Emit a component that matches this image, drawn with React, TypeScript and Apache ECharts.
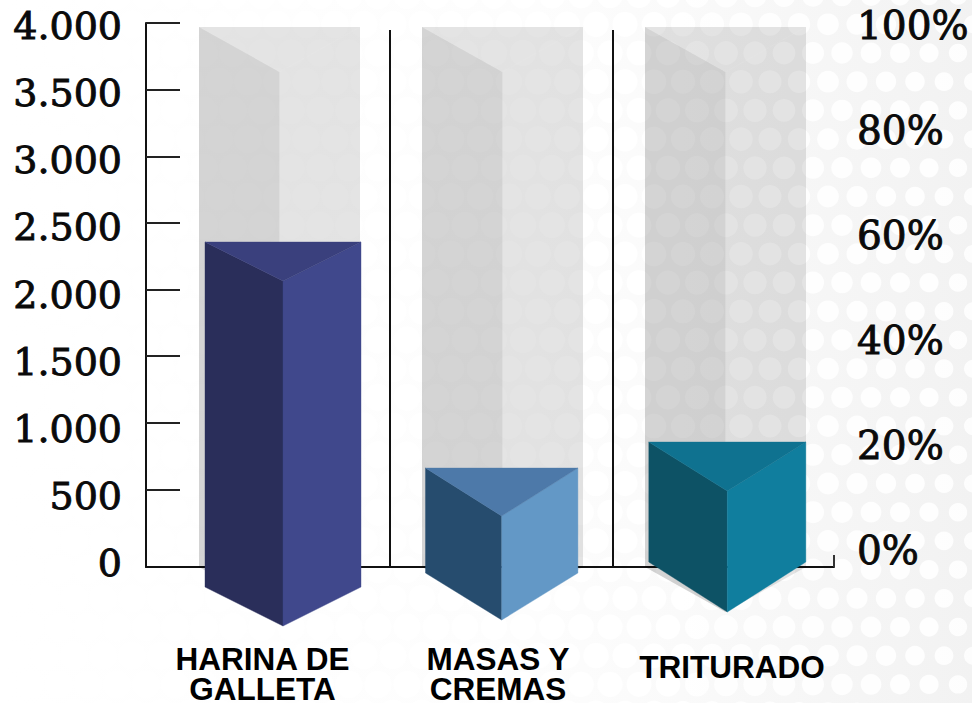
import React, { useEffect, useRef } from "react";
import * as echarts from "echarts";

const categories = ["HARINA DE\nGALLETA", "MASAS Y\nCREMAS", "TRITURADO"];
const barValues = [2356, 660, 855];
const trackValue = 3970;
const axisTickValues = [500, 1000, 1500, 2000, 2500, 3000, 3500, 4000];

const faceColors = [
  { left: "#2a2e5a", right: "#40488c", top: "#3a407d" },
  { left: "#264c6e", right: "#6398c6", top: "#4d79a9" },
  { left: "#0d5265", right: "#107e9e", top: "#0f7290" },
];

// Pixel shape of each prism: offset from band centre, half width, V depth, drop below value 0
const barShapes = [
  { dx: 5, half: 78, depth: 39, drop: 31, apex: 39 },
  { dx: 0.7, half: 76.2, depth: 48, drop: 17, apex: 47 },
  { dx: 3.3, half: 78.5, depth: 49, drop: 6, apex: 50 },
];
const trackShape = { dx: 1.5, half: 80.5, depth: 45 };

const grey = {
  left: "rgba(0,0,0,0.17)",
  right: "rgba(0,0,0,0.105)",
  top: "rgba(0,0,0,0.105)",
};

function poly(points: number[][], fill: string, seam: boolean) {
  return {
    type: "polygon",
    shape: { points },
    style: seam ? { fill, stroke: fill, lineWidth: 0.4 } : { fill },
  };
}

function prism(
  cx: number,
  half: number,
  yTop: number,
  depth: number,
  ySide: number,
  apex: number,
  c: { left: string; right: string; top: string },
  seam: boolean,
) {
  const l = cx - half;
  const r = cx + half;
  return [
    poly([[l, yTop], [cx, yTop + depth], [cx, ySide + apex], [l, ySide]], c.left, seam),
    poly([[r, yTop], [cx, yTop + depth], [cx, ySide + apex], [r, ySide]], c.right, seam),
    poly([[l, yTop], [r, yTop], [cx, yTop + depth]], c.top, seam),
  ];
}

function backdrop() {
  const els: any[] = [
    {
      type: "rect",
      silent: true,
      z: -20,
      shape: { x: 0, y: 0, width: 972, height: 703 },
      style: {
        fill: new echarts.graphic.LinearGradient(0, 0, 1, 0, [
          { offset: 0, color: "#ffffff" },
          { offset: 0.55, color: "#fdfdfd" },
          { offset: 0.7, color: "#fafafa" },
          { offset: 0.85, color: "#f6f6f6" },
          { offset: 1, color: "#f2f2f2" },
        ]),
      },
    },
  ];
  for (let i = -2; i < 24; i++) {
    const y = 53 + 28.7 * i;
    for (let j = -29; j < 7; j++) {
      const x = 813 + 29 * j - (Math.abs(i) % 2 === 1 ? 14 : 0);
      const t = Math.max(0, x / 972);
      const r = 14 - 5 * t * t * t;
      els.push({
        type: "circle",
        silent: true,
        z: -19,
        shape: { cx: x, cy: y, r },
        style: { fill: "#ffffff", opacity: 0.85 },
      });
    }
  }
  return els;
}

export default function App() {
  const ref = useRef<HTMLDivElement>(null);
  useEffect(() => {
    document.body.style.margin = "0";
    const chart = echarts.init(ref.current!, null, { renderer: "svg" });
    const numFont = {
      fontFamily: "DejaVu Serif",
      color: "#0a0a0a",
      textBorderColor: "#0a0a0a",
      textBorderWidth: 0.9,
    };
    chart.setOption({
      animation: false,
      backgroundColor: "transparent",
      graphic: { elements: backdrop() },
      grid: [
        { left: 146, top: 23, width: 688, height: 544, outerBoundsMode: "none" },
        { left: 166.5, top: 30, width: 669, height: 537, outerBoundsMode: "none" },
        { left: 146, top: 26, width: 688, height: 537, outerBoundsMode: "none" },
        { left: 834, top: 25, width: 1, height: 525, outerBoundsMode: "none" },
      ],
      xAxis: [
        {
          gridIndex: 0,
          type: "value",
          min: 0,
          max: 1,
          axisLine: { show: true, onZero: false, lineStyle: { color: "#111", width: 2 } },
          axisTick: { show: true, inside: true, length: 12, customValues: [1], lineStyle: { color: "#333", width: 2 } },
          axisLabel: { show: false },
          splitLine: { show: false },
        },
        {
          gridIndex: 1,
          type: "category",
          data: [
            { value: categories[0], textStyle: { padding: [0, 31, 0, 0] } },
            { value: categories[1], textStyle: { padding: [0, 6, 0, 0] } },
            { value: categories[2], textStyle: { padding: [8, 0, 0, 16] } },
          ],
          axisLine: { show: false },
          axisTick: { show: false },
          axisLabel: {
            interval: 0,
            margin: 77,
            verticalAlign: "top",
            fontFamily: "Liberation Sans",
            fontWeight: "bold",
            fontSize: 31.5,
            lineHeight: 30,
            color: "#000",
          },
          splitLine: {
            show: true,
            interval: 0,
            showMinLine: false,
            showMaxLine: false,
            lineStyle: { color: "#111", width: 2 },
          },
        },
        { gridIndex: 2, type: "value", show: false, min: 0, max: 1 },
        { gridIndex: 3, type: "value", show: false, min: 0, max: 1 },
      ],
      yAxis: [
        {
          gridIndex: 0,
          type: "value",
          min: -82.5,
          max: 4000,
          axisLine: { show: true, onZero: false, lineStyle: { color: "#111", width: 2 } },
          axisTick: {
            show: true,
            inside: true,
            length: 34,
            customValues: axisTickValues,
            lineStyle: { color: "#222", width: 2 },
          },
          axisLabel: { show: false },
          splitLine: { show: false },
        },
        {
          gridIndex: 1,
          type: "value",
          min: -82.5,
          max: 3947,
          show: false,
          splitLine: { show: false },
        },
        {
          gridIndex: 2,
          type: "value",
          min: 0,
          max: 4000,
          interval: 500,
          axisLine: { show: false },
          axisTick: { show: false },
          splitLine: { show: false },
          axisLabel: {
            ...numFont,
            fontSize: 38,
            margin: 24,
            formatter: (v: number) =>
              v >= 1000 ? `${Math.floor(v / 1000)}.${String(v % 1000).padStart(3, "0")}` : String(v),
          },
        },
        {
          gridIndex: 3,
          type: "value",
          position: "right",
          min: 0,
          max: 100,
          interval: 20,
          axisLine: { show: false },
          axisTick: { show: false },
          splitLine: { show: false },
          axisLabel: { ...numFont, fontSize: 39, margin: 22, formatter: "{value}%" },
        },
      ],
      series: [
        {
          type: "custom",
          xAxisIndex: 1,
          yAxisIndex: 1,
          clip: false,
          z: 1,
          data: barValues.map((_, i) => [i, trackValue]),
          renderItem: (_p: any, api: any) => {
            const top = api.coord([api.value(0), api.value(1)]);
            const base = api.coord([api.value(0), -82.5]);
            return {
              type: "group",
              children: prism(
                top[0] + trackShape.dx,
                trackShape.half,
                top[1],
                trackShape.depth,
                base[1],
                trackShape.depth,
                grey,
                false,
              ),
            };
          },
        },
        {
          type: "custom",
          xAxisIndex: 1,
          yAxisIndex: 1,
          clip: false,
          z: 5,
          data: barValues.map((v, i) => [i, v]),
          renderItem: (p: any, api: any) => {
            const s = barShapes[p.dataIndex];
            const top = api.coord([api.value(0), api.value(1)]);
            const zero = api.coord([api.value(0), 0]);
            return {
              type: "group",
              children: prism(
                top[0] + s.dx,
                s.half,
                top[1],
                s.depth,
                zero[1] + s.drop,
                s.apex,
                faceColors[p.dataIndex],
                true,
              ),
            };
          },
        },
      ],
    });
    return () => chart.dispose();
  }, []);
  return (
    <div
      ref={ref}
      style={{ position: "absolute", left: 0, top: 0, width: 972, height: 703, overflow: "hidden" }}
    />
  );
}
